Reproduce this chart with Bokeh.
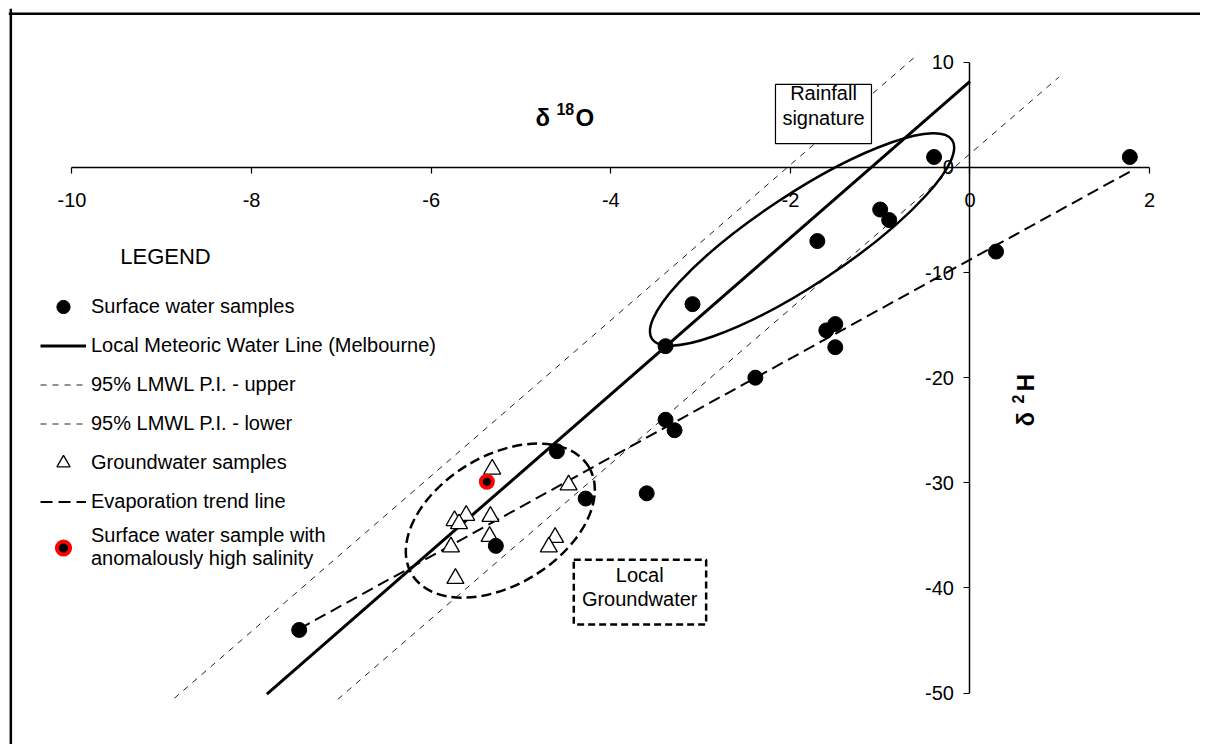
from bokeh.plotting import figure
from bokeh.models import (Range1d, FixedTicker, Label, Legend, LegendItem,
                          BoxAnnotation, Span)
from bokeh.embed import file_html
from bokeh.resources import INLINE
import math

# ---------------- data ----------------
surface_d18O = [-7.47, -5.28, -4.60, -4.28, -3.60, -3.39, -3.29, -3.39, -3.09, -2.39,
                -1.70, -1.60, -1.50, -1.50, -1.00, -0.90, -0.40, 0.29, 1.78]
surface_d2H = [-44.0, -36.0, -27.0, -31.5, -31.0, -24.0, -25.0, -17.0, -13.0, -20.0,
               -7.0, -15.5, -14.9, -17.1, -4.0, -5.0, 1.0, -8.0, 1.0]

ground_d18O = [-5.32, -4.47, -5.61, -5.74, -5.69, -5.34, -5.35, -5.78, -4.62, -4.69, -5.73]
ground_d2H = [-28.7, -30.2, -33.1, -33.6, -33.9, -33.2, -35.1, -36.1, -35.2, -36.1, -39.1]

saline_d18O = [-5.38]
saline_d2H = [-29.9]

lmwl_d18O = [-7.83, 0.0]
lmwl_d2H = [-50.1, 8.2]
pi_upper_d18O = [-8.86, -0.575]
pi_upper_d2H = [-50.5, 10.8]
pi_lower_d18O = [-7.04, 0.99]
pi_lower_d2H = [-50.6, 8.6]
evap_d18O = [-7.47, 1.78]
evap_d2H = [-43.9, -0.4]

x_ticks = [-10, -8, -6, -4, -2, 0, 2]
y_ticks = [-50, -40, -30, -20, -10, 0, 10]

# annotation ellipses: centre (data), size (screen px), angle (deg)
rain_ell_center = (-1.87, -6.85)
rain_ell_size = (360, 90)
rain_ell_angle = 33.5
gw_ell_center = (-5.23, -33.6)
gw_ell_size = (207, 129)
gw_ell_angle = 31.4

FONT = "Liberation Sans"

p = figure(frame_width=1192, frame_height=736, output_backend="svg", toolbar_location=None,
           x_range=Range1d(-10.707, 2.567), y_range=Range1d(-54.90, 15.128),
           min_border=0, min_border_left=8, min_border_top=8,
           background_fill_color="white", border_fill_color="white")
p.outline_line_color = None
p.grid.visible = False

# axes crossing at the origin
for ax in (p.xaxis[0], p.yaxis[0]):
    ax.fixed_location = 0
    ax.axis_line_color = "black"
    ax.axis_line_width = 1.5
    ax.major_tick_line_color = "black"
    ax.major_tick_line_width = 1.2
    ax.major_tick_in = 0
    ax.major_tick_out = 6
    ax.minor_tick_line_color = None
    ax.major_label_text_font = FONT
    ax.major_label_text_font_size = "20px"
    ax.major_label_text_color = "black"
p.xaxis[0].ticker = FixedTicker(ticks=x_ticks)
p.yaxis[0].ticker = FixedTicker(ticks=y_ticks)
p.xaxis[0].major_label_overrides = {t: str(t) for t in x_ticks}
p.yaxis[0].major_label_overrides = {t: str(t) for t in y_ticks}
p.xaxis[0].bounds = (min(x_ticks), max(x_ticks))
p.yaxis[0].bounds = (min(y_ticks), max(y_ticks))
p.xaxis[0].major_label_standoff = 20
p.yaxis[0].major_label_standoff = 10

# frame (left and top borders)
p.add_layout(Span(location=-10.681, dimension="height", line_color="black", line_width=2.5))
p.add_layout(Span(location=14.62, dimension="width", line_color="black", line_width=2.5))

# lines
r_upper = p.line(pi_upper_d18O, pi_upper_d2H, line_color="#222222", line_width=1, line_dash="6 6")
r_lower = p.line(pi_lower_d18O, pi_lower_d2H, line_color="#222222", line_width=1, line_dash="6 6")
r_lmwl = p.line(lmwl_d18O, lmwl_d2H, line_color="black", line_width=3)
r_evap = p.line(evap_d18O, evap_d2H, line_color="black", line_width=2, line_dash="12 6")

# ellipses
p.ellipse(x=[rain_ell_center[0]], y=[rain_ell_center[1]], width=[rain_ell_size[0]],
          height=[rain_ell_size[1]], angle=math.radians(rain_ell_angle),
          width_units="screen", height_units="screen",
          fill_color=None, line_color="black", line_width=2.5)
p.ellipse(x=[gw_ell_center[0]], y=[gw_ell_center[1]], width=[gw_ell_size[0]],
          height=[gw_ell_size[1]], angle=math.radians(gw_ell_angle),
          width_units="screen", height_units="screen",
          fill_color=None, line_color="black", line_width=2.5, line_dash="10 5")

# points
r_ground = p.scatter(ground_d18O, ground_d2H, marker="triangle", size=17,
                     fill_color="white", line_color="black", line_width=1.3)
r_surface = p.scatter(surface_d18O, surface_d2H, marker="circle", size=15,
                      fill_color="black", line_color="black")
r_saline = p.scatter(saline_d18O, saline_d2H, marker="circle", size=12,
                     fill_color="black", line_color="red", line_width=4)

# legend
legend = Legend(items=[
    LegendItem(label="Surface water samples", renderers=[r_surface]),
    LegendItem(label="Local Meteoric Water Line (Melbourne)", renderers=[r_lmwl]),
    LegendItem(label="95% LMWL P.I. - upper", renderers=[r_upper]),
    LegendItem(label="95% LMWL P.I. - lower", renderers=[r_lower]),
    LegendItem(label="Groundwater samples", renderers=[r_ground]),
    LegendItem(label="Evaporation trend line", renderers=[r_evap]),
    LegendItem(label="Surface water sample with\nanomalously high salinity", renderers=[r_saline]),
], location=(32, 174), glyph_width=46, glyph_height=33, label_standoff=5, spacing=6,
    padding=0, margin=0, border_line_color=None, background_fill_alpha=0,
    label_text_font=FONT, label_text_font_size="20px", label_text_color="black",
    label_height=20)
p.add_layout(legend)

p.add_layout(Label(x=-8.959, y=-9.705, text="LEGEND", text_align="center",
                   text_font=FONT, text_font_size="22px", text_color="black"))

# axis titles
p.add_layout(Label(x=-4.839, y=3.52, text="δ", text_font=FONT, text_font_size="24px",
                   text_font_style="bold", text_color="black"))
p.add_layout(Label(x=-4.605, y=4.95, text="18", text_font=FONT, text_font_size="16px",
                   text_font_style="bold", text_color="black"))
p.add_layout(Label(x=-4.393, y=3.52, text="O", text_font=FONT, text_font_size="24px",
                   text_font_style="bold", text_color="black"))

p.add_layout(Label(x=0.774, y=-24.64, text="δ", angle=math.pi / 2, text_font=FONT,
                   text_font_size="24px", text_font_style="bold", text_color="black"))
p.add_layout(Label(x=0.607, y=-22.45, text="2", angle=math.pi / 2, text_font=FONT,
                   text_font_size="16px", text_font_style="bold", text_color="black"))
p.add_layout(Label(x=0.774, y=-21.3, text="H", angle=math.pi / 2, text_font=FONT,
                   text_font_size="24px", text_font_style="bold", text_color="black"))

# annotation boxes
p.add_layout(BoxAnnotation(left=-2.166, right=-1.097, top=7.90, bottom=2.28,
                           fill_color="white", fill_alpha=1, line_color="black",
                           line_alpha=1, line_width=1.2))
p.add_layout(Label(x=-1.631, y=6.06, text="Rainfall", text_align="center",
                   text_font=FONT, text_font_size="20px", text_color="black"))
p.add_layout(Label(x=-1.631, y=3.68, text="signature", text_align="center",
                   text_font=FONT, text_font_size="20px", text_color="black"))

p.add_layout(BoxAnnotation(left=-4.412, right=-2.938, top=-37.33, bottom=-43.48,
                           fill_color="white", fill_alpha=1, line_color="black",
                           line_alpha=1, line_width=2.5, line_dash="7 4"))
p.add_layout(Label(x=-3.678, y=-39.83, text="Local", text_align="center",
                   text_font=FONT, text_font_size="20px", text_color="black"))
p.add_layout(Label(x=-3.678, y=-42.08, text="Groundwater", text_align="center",
                   text_font=FONT, text_font_size="20px", text_color="black"))

open("out.html", "w").write(file_html(p, INLINE))
